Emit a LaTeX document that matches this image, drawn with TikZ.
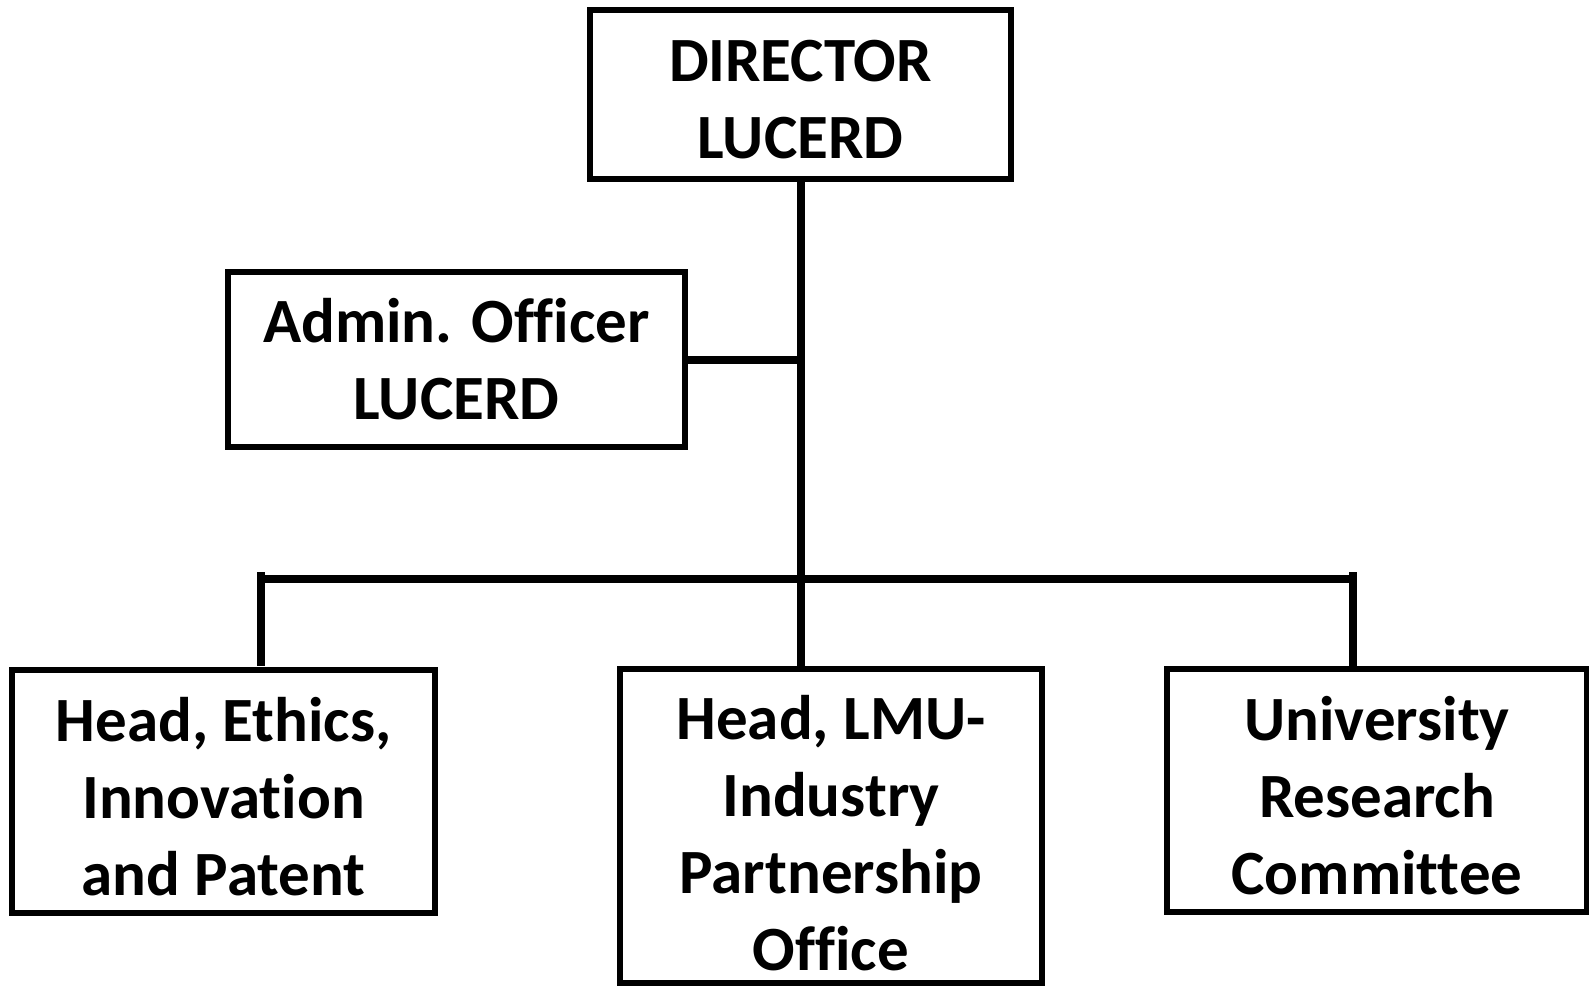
\documentclass[tikz,border=0pt]{standalone}
\usepackage{fontspec}
\setmainfont{Carlito}[Ligatures={NoCommon}]
\newcommand{\topstrut}[1]{\rule{0pt}{#1}}
\begin{document}
\begin{tikzpicture}[x=0.5pt, y=-0.5pt,
		box/.style={draw, line width=2.75pt, align=center, inner sep=0pt,
			font=\bfseries\fontsize{31.5}{38.5}\selectfont},
		link/.style={line width=4pt}]
		\useasboundingbox (0,0) rectangle (1589,985);
		
		% Boxes
		\node[box, minimum width=210.5pt, minimum height=84.5pt] (dir) at (800.5,94.5) {\topstrut{26pt}DIRECTOR\\LUCERD};
		\node[box, minimum width=228.5pt, minimum height=87.5pt] (adm) at (456.5,359.5) {Admin. Officer\\LUCERD};
		\node[box, minimum width=211.5pt, minimum height=121.5pt] (eth) at (223.5,791.5) {\topstrut{27.5pt}Head, Ethics,\\Innovation\\and Patent};
		\node[box, minimum width=211pt, minimum height=157pt] (lmu) at (831,826) {\topstrut{29.5pt}Head, LMU-\\Industry\\Partnership\\Office};
		\node[box, minimum width=210pt, minimum height=121.5pt] (urc) at (1377,790.5) {\topstrut{27pt}University\\Research\\Committee};
		
		% Bar and its ends
		\coordinate (barL) at (261,579);
		\coordinate (barR) at (1353,579);
		\coordinate (tickL) at (261,666);
		\coordinate (tickR) at (1353,666);
		
		% Connectors
		\draw[link] (dir.south) -- (dir.south |- lmu.north);
		\draw[link] (adm.east) -- (adm.east -| dir.south);
		\draw[link] (barL) -- (barR);
		\foreach \p/\q in {barL/tickL, barR/tickR}
		\draw[link] ([yshift=3.5pt]\p) -- (\q);
	\end{tikzpicture}
\end{document}
